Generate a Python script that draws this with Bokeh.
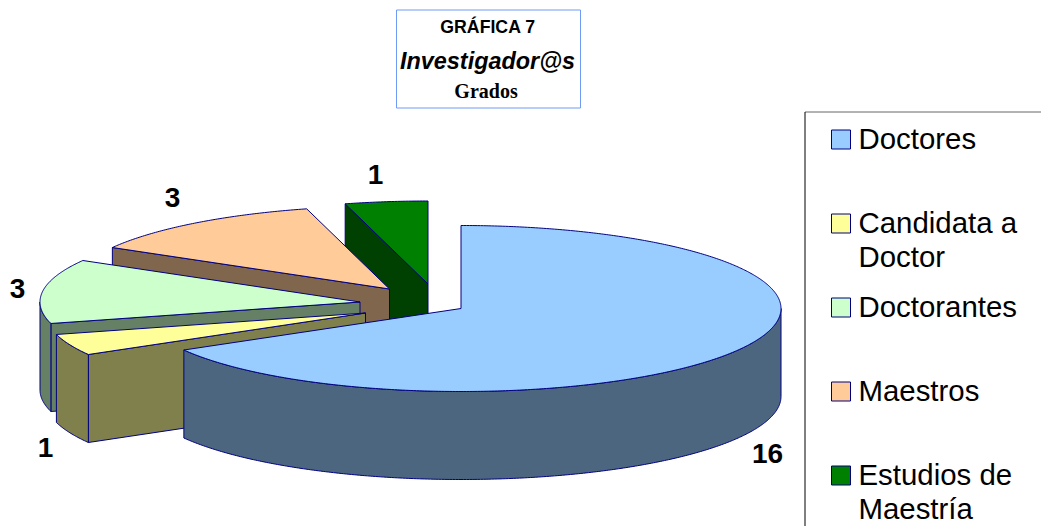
import numpy as np
from bokeh.core.properties import value
from bokeh.embed import file_html
from bokeh.models import Range1d
from bokeh.plotting import figure
from bokeh.resources import INLINE

categories = ["Doctores", "Candidata a Doctor", "Doctorantes", "Maestros", "Estudios de Maestría"]
values = [16, 1, 3, 3, 1]
top_colors = ["#99CCFF", "#FFFF99", "#CCFFCC", "#FFCC99", "#008000"]
side_colors = ["#4D6680", "#80804D", "#668066", "#80664D", "#004000"]

legend_lines = [["Doctores"], ["Candidata a", "Doctor"], ["Doctorantes"], ["Maestros"], ["Estudios de", "Maestría"]]
title_lines = ["GRÁFICA 7", "Investigador@s", "Grados"]

# layout (page pixels)
RX, RY, DEPTH = 320, 83, 88
apex = [(460.5, 308), (365, 312.5), (359.5, 301.5), (389, 288.5), (427.5, 283.5)]
label_pos = [(767, 453), (45, 447), (17, 288), (172, 197), (375, 174)]
legend_y = [139, 223, 307, 391, 475]
NAVY = "#000080"

p = figure(width=1041, height=526, output_backend="svg", toolbar_location=None,
           x_range=Range1d(0, 1041), y_range=Range1d(526, 0),
           min_border=0, outline_line_color=None, background_fill_color="white")
p.axis.visible = False
p.grid.visible = False


def arc(ax, ay, a0, a1):
    t = np.radians(np.linspace(a0, a1, max(2, int(abs(a1 - a0) * 2) + 1)))
    return ax + RX * np.sin(t), ay - RY * np.cos(t)


def face(xs, ys, color):
    p.patch(list(xs), list(ys), fill_color=color, line_color=NAVY, line_width=1, line_join="round")


# slice angles, clockwise from twelve o'clock, follow from the values
edges = np.concatenate([[0], np.cumsum(values)]) * 360.0 / sum(values)

# paint back to front: last slice first, first slice on top
for i in range(len(values) - 1, -1, -1):
    ax, ay = apex[i]
    a0, a1 = edges[i], edges[i + 1]

    # radial wall: the leading edge is visible when it looks towards the viewer
    if 180 < a0 < 360:
        ex, ey = arc(ax, ay, a0, a0)
        face([ax, ex[0], ex[0], ax], [ay, ey[0], ey[0] + DEPTH, ay + DEPTH], side_colors[i])

    # outer wall on the front half of the ellipse
    f0, f1 = max(a0, 90), min(a1, 270)
    if f1 > f0:
        wx, wy = arc(ax, ay, f0, f1)
        face(np.r_[wx, wx[::-1]], np.r_[wy, wy[::-1] + DEPTH], side_colors[i])

    # top
    tx, ty = arc(ax, ay, a0, a1)
    face(np.r_[ax, tx], np.r_[ay, ty], top_colors[i])

# data labels
p.text([q[0] for q in label_pos], [q[1] for q in label_pos], text=[str(v) for v in values],
       text_font=value("Liberation Sans"), text_font_style="bold", text_font_size="28px",
       text_color="black", text_align="center", text_baseline="middle")

# title box
p.quad(left=[396], right=[580], top=[9.5], bottom=[107.5], fill_color="white",
       line_color="#6F9BF5", line_width=1)
p.text([487.5], [26], text=[title_lines[0]], text_font=value("Liberation Sans"), text_font_style="bold",
       text_font_size="17.7px", text_color="black", text_align="center", text_baseline="middle")
p.text([487], [60.5], text=[title_lines[1]], text_font=value("Liberation Sans"), text_font_style="bold italic",
       text_font_size="23.4px", text_color="black", text_align="center", text_baseline="middle")
p.text([485.5], [90], text=[title_lines[2]], text_font=value("Liberation Serif"), text_font_style="bold",
       text_font_size="20px", text_color="black", text_align="center", text_baseline="middle")

# legend box
p.line([804.5, 1041], [111.5, 111.5], line_color="#666666", line_width=1)
p.line([804.5, 804.5], [111.5, 526], line_color="black", line_width=1)
for lines, yc, color in zip(legend_lines, legend_y, top_colors):
    p.rect([840.5], [yc], width=19, height=19, fill_color=color, line_color=NAVY, line_width=1)
    for k, line in enumerate(lines):
        p.text([858], [yc - 1 + k * 33.5], text=[line], text_font=value("Liberation Sans"),
               text_font_size="29.4px", text_color="black", text_align="left", text_baseline="middle")

open("out.html", "w").write(file_html(p, INLINE))
